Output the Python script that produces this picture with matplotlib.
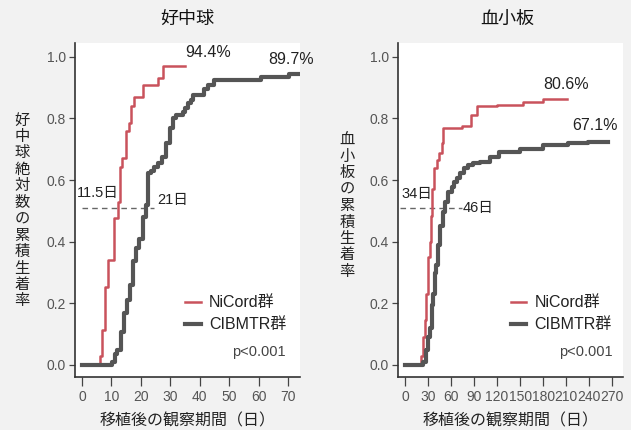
import numpy as np
import matplotlib.pyplot as plt

plt.rcParams['font.family'] = ['Liberation Sans', 'Noto Sans CJK JP', 'DejaVu Sans']

RED = '#c9525c'
GRAY = '#555555'

# 好中球 (neutrophil) cumulative engraftment
neu_nicord_days = [0, 6, 6.8, 7.8, 8.8, 10.9, 12.3, 12.9, 13.7, 14.8, 16.0, 16.7, 17.7, 20.8, 25.9, 27.6, 35]
neu_nicord_vals = [0, 0.03, 0.114, 0.253, 0.34, 0.476, 0.53, 0.644, 0.672, 0.76, 0.786, 0.84, 0.87, 0.91, 0.93, 0.97, 0.97]
neu_cibmtr_days = [0, 10.2, 11.3, 12.0, 13.3, 14.4, 15.3, 16.2, 17.3, 18.4, 19.5, 20.6, 21.6, 22.5, 23.4,
                   24.6, 25.9, 27.1, 28.4, 29.8, 30.8, 32.0, 34.2, 35.0, 36.0, 36.9, 37.8, 41.6, 42.7,
                   44.8, 60.8, 70.3, 74.5]
neu_cibmtr_vals = [0, 0.01, 0.036, 0.05, 0.107, 0.17, 0.21, 0.26, 0.337, 0.38, 0.41, 0.48, 0.52, 0.622, 0.63,
                   0.644, 0.657, 0.674, 0.72, 0.77, 0.80, 0.81, 0.82, 0.835, 0.85, 0.86, 0.877, 0.895, 0.91,
                   0.925, 0.935, 0.945, 0.945]

# 血小板 (platelet) cumulative engraftment
plt_nicord_days = [0, 21, 23.5, 26, 27.4, 30, 32, 33.5, 35.6, 38.2, 41.3, 44.3, 47.8, 49.5, 74, 86, 93.5,
                   119.5, 154, 180, 211]
plt_nicord_vals = [0, 0.03, 0.09, 0.146, 0.23, 0.35, 0.40, 0.484, 0.57, 0.64, 0.666, 0.688, 0.72, 0.77,
                   0.775, 0.81, 0.84, 0.845, 0.855, 0.863, 0.863]
plt_cibmtr_days = [0, 24, 27.6, 29.7, 32.6, 34.7, 36.9, 39, 41, 43, 46, 49, 52, 56.5, 61, 64, 67.4, 71.7,
                   77, 82.6, 88, 98, 111, 122, 150, 180, 213, 239, 264]
plt_cibmtr_vals = [0, 0.01, 0.05, 0.09, 0.12, 0.195, 0.23, 0.30, 0.325, 0.39, 0.45, 0.498, 0.53, 0.563,
                   0.579, 0.595, 0.606, 0.622, 0.638, 0.649, 0.655, 0.66, 0.675, 0.69, 0.70, 0.713, 0.72,
                   0.725, 0.725]

panels = [
    dict(title='好中球', ylabel='好中球絶対数の累積生着率',
         nicord=(neu_nicord_days, neu_nicord_vals), cibmtr=(neu_cibmtr_days, neu_cibmtr_vals),
         xlim=(-2.4, 74.1), xticks=np.arange(0, 71, 10),
         median_line=(0, 24.6), median_y=0.509,
         med_labels=[('11.5日', -1.7, 0.557), ('21日', 25.5, 0.537)],
         pct_labels=[('94.4%', 35, 1.015), ('89.7%', 63.2, 0.993)],
         rect=[75 / 631, 53 / 430, 225 / 631, 334 / 430],
         legend_x=0.49, p_x=0.938, title_x=187, ylabel_x=22, ylabel_y=211),
    dict(title='血小板', ylabel='血小板の累積生着率',
         nicord=(plt_nicord_days, plt_nicord_vals), cibmtr=(plt_cibmtr_days, plt_cibmtr_vals),
         xlim=(-9.1, 284), xticks=np.arange(0, 271, 30),
         median_line=(-6.5, 74), median_y=0.509,
         med_labels=[('34日', -4, 0.555), ('46日', 75.6, 0.511)],
         pct_labels=[('80.6%', 180, 0.911), ('67.1%', 218, 0.776)],
         rect=[398 / 631, 53 / 430, 225 / 631, 334 / 430],
         legend_x=0.50, p_x=0.956, title_x=507, ylabel_x=347, ylabel_y=206),
]

fig = plt.figure(figsize=(6.31, 4.30), dpi=100, facecolor='#f2f2f2')

for p in panels:
    ax = fig.add_axes(p['rect'])
    ax.set_facecolor('white')

    ax.hlines(p['median_y'], *p['median_line'], colors='#666666', linestyles=(0, (4, 3)), lw=1)
    ax.step(*p['nicord'], where='post', color=RED, lw=1.8, label='NiCord群', zorder=3)
    ax.step(*p['cibmtr'], where='post', color=GRAY, lw=3.0, label='CIBMTR群', zorder=3)

    ax.set_xlim(*p['xlim'])
    ax.set_ylim(-0.039, 1.045)
    ax.set_xticks(p['xticks'])
    ax.set_yticks(np.arange(0, 1.01, 0.2))
    ax.set_yticklabels([f'{v:.1f}' for v in np.arange(0, 1.01, 0.2)])

    for s in ['top', 'right']:
        ax.spines[s].set_visible(False)
    for s in ['left', 'bottom']:
        ax.spines[s].set_color('#333333')
        ax.spines[s].set_linewidth(1.2)
    ax.tick_params(width=0.9, color='#444444', labelcolor='#555555', labelsize=10)
    ax.tick_params(axis='x', length=6.5, pad=3)
    ax.tick_params(axis='y', length=4.5, pad=2)

    for txt, x, y in p['med_labels']:
        ax.text(x, y, txt, fontsize=10.5, color='#222222', va='center', ha='left')
    for txt, x, y in p['pct_labels']:
        ax.text(x, y, txt, fontsize=11.5, color='#222222', va='center', ha='left')

    leg = ax.legend(loc='upper left', bbox_to_anchor=(p['legend_x'], 0.245), frameon=False,
                    fontsize=11.5, handlelength=1.0, handletextpad=0.5, labelspacing=0.45,
                    borderpad=0, borderaxespad=0)
    for t in leg.get_texts():
        t.set_color('#222222')
    ax.text(p['p_x'], 0.075, 'p<0.001', transform=ax.transAxes, fontsize=10.5,
            color='#444444', ha='right', va='center')

    fig.text(p['title_x'] / 631, 1 - 19.5 / 430, p['title'], fontsize=13, ha='center',
             va='center', color='#111111')
    fig.text(p['ylabel_x'] / 631, 1 - p['ylabel_y'] / 430, '\n'.join(p['ylabel']),
             fontsize=11, ha='center', va='center', linespacing=1.22, color='#222222')
    ax.set_xlabel('移植後の観察期間（日）', fontsize=11.5, color='#222222', labelpad=6.5)

fig.savefig('out.png', dpi=100, facecolor=fig.get_facecolor())
